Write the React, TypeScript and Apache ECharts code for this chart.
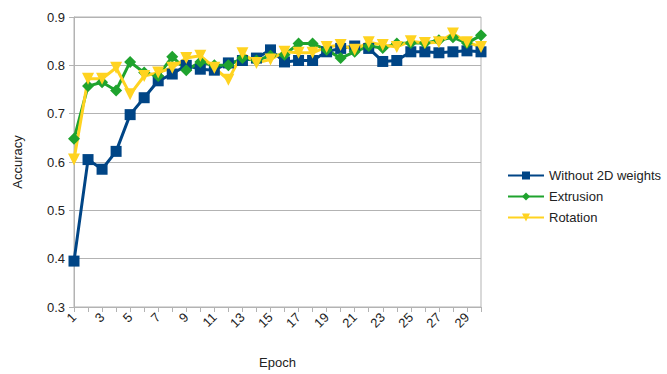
import React, { useEffect, useRef } from "react";
import * as echarts from "echarts";

const epochs = Array.from({ length: 30 }, (_, i) => String(i + 1));
const without2D = [0.395, 0.605, 0.585, 0.622, 0.698, 0.733, 0.768, 0.782, 0.8, 0.792, 0.79, 0.805, 0.81, 0.815, 0.832, 0.807, 0.81, 0.81, 0.828, 0.835, 0.84, 0.835, 0.808, 0.81, 0.828, 0.828, 0.826, 0.828, 0.83, 0.828];
const extrusion = [0.648, 0.757, 0.765, 0.748, 0.807, 0.785, 0.778, 0.818, 0.79, 0.807, 0.8, 0.8, 0.815, 0.81, 0.82, 0.822, 0.845, 0.845, 0.832, 0.815, 0.828, 0.84, 0.836, 0.845, 0.846, 0.846, 0.852, 0.858, 0.846, 0.862];
const rotation = [0.605, 0.772, 0.772, 0.795, 0.74, 0.778, 0.785, 0.795, 0.815, 0.82, 0.795, 0.77, 0.825, 0.805, 0.812, 0.828, 0.826, 0.826, 0.838, 0.842, 0.832, 0.848, 0.842, 0.838, 0.85, 0.846, 0.848, 0.866, 0.848, 0.838];

const FONT = "Liberation Sans, Arial, sans-serif";

export default function App() {
  const ref = useRef<HTMLDivElement>(null);
  useEffect(() => {
    if (!ref.current) return;
    const chart = echarts.init(ref.current, undefined, { renderer: "svg" });
    const gray = "#b3b3b3";
    chart.setOption({
      animation: false,
      textStyle: { fontFamily: FONT },
      grid: { left: 74, right: 186, top: 17, bottom: 66, show: true, borderColor: gray, borderWidth: 1 },
      legend: {
        orient: "vertical",
        left: 502,
        top: 164,
        itemWidth: 36,
        itemHeight: 10,
        itemGap: 8,
        textStyle: { fontSize: 13, color: "#222", fontFamily: FONT },
        data: ["Without 2D weights", "Extrusion", "Rotation"],
      },
      xAxis: {
        type: "category",
        data: epochs,
        boundaryGap: false,
        name: "Epoch",
        nameLocation: "middle",
        nameGap: 49,
        nameTextStyle: { fontSize: 13, color: "#222", fontFamily: FONT },
        axisLine: { lineStyle: { color: gray } },
        axisTick: { show: true, interval: 0, length: 5, lineStyle: { color: gray } },
        axisLabel: { interval: 1, rotate: 45, fontSize: 13, color: "#222", margin: 8, fontFamily: FONT },
        splitLine: { show: false },
      },
      yAxis: {
        type: "value",
        min: 0.3,
        max: 0.9,
        interval: 0.1,
        name: "Accuracy",
        nameLocation: "middle",
        nameGap: 50,
        nameTextStyle: { fontSize: 13, color: "#222", fontFamily: FONT },
        axisLine: { show: true, lineStyle: { color: gray } },
        axisTick: { show: true, length: 5, lineStyle: { color: gray } },
        axisLabel: { fontSize: 13, color: "#222", margin: 9, fontFamily: FONT, formatter: (v: number) => v.toFixed(1) },
        splitLine: { show: true, lineStyle: { color: gray } },
      },
      series: [
        {
          name: "Without 2D weights",
          type: "line",
          data: without2D,
          symbol: "rect",
          symbolSize: 11,
          showAllSymbol: true,
          lineStyle: { width: 3, color: "#004586" },
          itemStyle: { color: "#004586" },
        },
        {
          name: "Extrusion",
          type: "line",
          data: extrusion,
          symbol: "diamond",
          symbolSize: 12,
          showAllSymbol: true,
          lineStyle: { width: 3, color: "#1fa32e" },
          itemStyle: { color: "#1fa32e" },
        },
        {
          name: "Rotation",
          type: "line",
          data: rotation,
          symbol: "triangle",
          symbolRotate: 180,
          symbolSize: 12,
          showAllSymbol: true,
          lineStyle: { width: 3, color: "#ffd320" },
          itemStyle: { color: "#ffd320" },
        },
      ],
    });
    return () => chart.dispose();
  }, []);
  return <div ref={ref} style={{ width: 667, height: 374, position: "absolute", left: 0, top: 0 }} />;
}
